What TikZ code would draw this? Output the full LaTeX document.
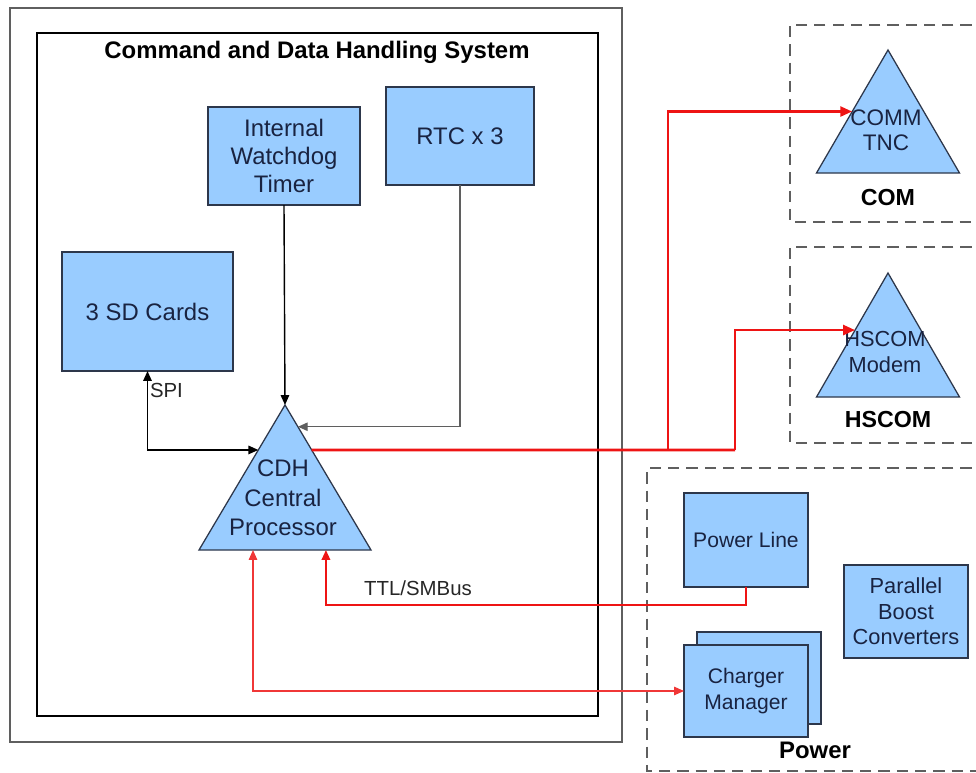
\documentclass[tikz,border=0pt]{standalone}
\usepackage{fontspec}
\setmainfont{Liberation Sans}
\usetikzlibrary{shapes.geometric,arrows.meta,calc}
\definecolor{boxblue}{RGB}{153,204,255}
\definecolor{boxedge}{RGB}{45,55,75}
\definecolor{boxtext}{RGB}{25,35,65}
\definecolor{framegray}{RGB}{95,95,95}
\definecolor{busred}{RGB}{238,20,20}

\begin{document}
\begin{tikzpicture}[x=0.025cm,y=-0.025cm,
  every node/.style={inner sep=0pt,outer sep=0pt},
  block/.style={draw=boxedge,line width=0.9pt,fill=boxblue,align=center,text=boxtext,font=\fontsize{17}{20}\selectfont},
  pblock/.style={block,font=\fontsize{15}{18}\selectfont},
  proc/.style={isosceles triangle,isosceles triangle stretches,shape border rotate=90,draw=boxedge,line width=0.9pt,fill=boxblue},
  proctext/.style={align=center,text=boxtext},
  group/.style={draw=framegray,dash pattern=on 8pt off 5pt,line width=0.9pt},
  grouplabel/.style={font=\bfseries\fontsize{17}{20}\selectfont},
  buslabel/.style={font=\fontsize{14.5}{17}\selectfont,text=black!85},
  tip/.style={-{Triangle[length=7pt,width=6pt]}},
  wire/.style={line width=1pt,tip},
  bus/.style={busred,line width=2pt,-{Triangle[length=8.5pt,width=7pt]}},
  ttl/.style={busred,line width=1.4pt,-{Triangle[length=7pt,width=6pt]}},
  chgline/.style={busred!85,line width=0.9pt,{Triangle[length=7pt,width=6pt]}-{Triangle[length=7pt,width=6pt]}}
  ]
\useasboundingbox (0,0) rectangle (976,773);

\draw[framegray,line width=0.9pt] (10,8) rectangle (622,742);
\draw[black,line width=1.6pt] (37,33) rectangle (598,716);
\node[grouplabel] (cdhtitle) at (317,52) {Command and Data Handling System};

\node[block,minimum width=3.8cm,minimum height=2.45cm] (wdt) at (284,156) {Internal\\Watchdog\\Timer};
\node[block,minimum width=3.7cm,minimum height=2.45cm] (rtc) at (460,136) {RTC x 3};
\node[block,minimum width=4.275cm,minimum height=2.975cm] (sd) at (147.5,311.5) {3 SD Cards};
\node[proc,minimum width=4.3cm,minimum height=3.625cm,anchor=apex] (cdh) at (285,405) {};
\node[proctext,font=\fontsize{17}{21}\selectfont] (cdhlbl) at (283,498) {CDH\\Central\\Processor};

\draw[group] (990,25) -| (790,222) -- (990,222);
\node[proc,minimum width=3.575cm,minimum height=3.075cm,anchor=apex] (tnc) at (888,50) {};
\node[proctext,font=\fontsize{16}{18}\selectfont] (tnclbl) at (886,130) {COMM\\TNC};
\node[grouplabel,font=\bfseries\fontsize{16.5}{20}\selectfont] (comlbl) at (888,198) {COM};

\draw[group] (990,247) -| (790,443) -- (990,443);
\node[proc,minimum width=3.575cm,minimum height=3.1cm,anchor=apex] (modem) at (888,273) {};
\node[proctext,font=\fontsize{15.5}{18}\selectfont] (modemlbl) at (885,352) {HSCOM\\Modem};
\node[grouplabel,font=\bfseries\fontsize{16.5}{20}\selectfont] (hscomlbl) at (888,420) {HSCOM};

\draw[group] (990,468) -| (647,771) -- (990,771);
\node[pblock,minimum width=3.1cm,minimum height=2.35cm] (pwr) at (746,540) {Power Line};
\node[pblock,font=\fontsize{15.5}{18}\selectfont,minimum width=3.1cm,minimum height=2.325cm] (boost) at (906,611.5) {Parallel\\Boost\\Converters};
\node[pblock,minimum width=3.1cm,minimum height=2.3cm] (chgback) at (759,678) {};
\node[pblock,minimum width=3.1cm,minimum height=2.3cm] (chg) at (746,691) {Charger\\Manager};
\node[grouplabel] (powerlbl) at (815,750) {Power};

\coordinate (spiend) at ($(cdh.apex)!0.31!(cdh.left corner)$);
\coordinate (rtcend) at ($(cdh.apex)!0.15!(cdh.right corner)$);
\coordinate (busstart) at ($(cdh.apex)!0.31!(cdh.right corner)$);
\coordinate (ttlend) at ($(cdh.left corner)!0.738!(cdh.right corner)$);
\coordinate (chgend) at ($(cdh.left corner)!0.314!(cdh.right corner)$);
\coordinate (tncend) at ($(tnc.apex)!0.5!(tnc.left corner)$);
\coordinate (modemend) at ($(modem.apex)!0.46!(modem.left corner)$);
\coordinate (fork) at (668,450);
\coordinate (fork2) at (735,450);

\draw[wire] (wdt.south) -- (cdh.apex);
\draw[wire,framegray] (rtc.south) |- (rtcend);
\draw[wire,{Triangle[length=7pt,width=6pt]}-{Triangle[length=7pt,width=6pt]}] (sd.south) |- (spiend);
\node[buslabel,anchor=west] (spilbl) at (150,390) {SPI};

\draw[bus,-] (busstart) -- (fork2);
\draw[bus] (fork) |- (tncend);
\draw[bus] (fork2) |- (modemend);

\draw[ttl] (pwr.south) -- ++(0,18) -| (ttlend);
\node[buslabel] (ttllbl) at (418,588) {TTL/SMBus};
\draw[chgline] (chgend) |- (chg.west);
\end{tikzpicture}
\end{document}
